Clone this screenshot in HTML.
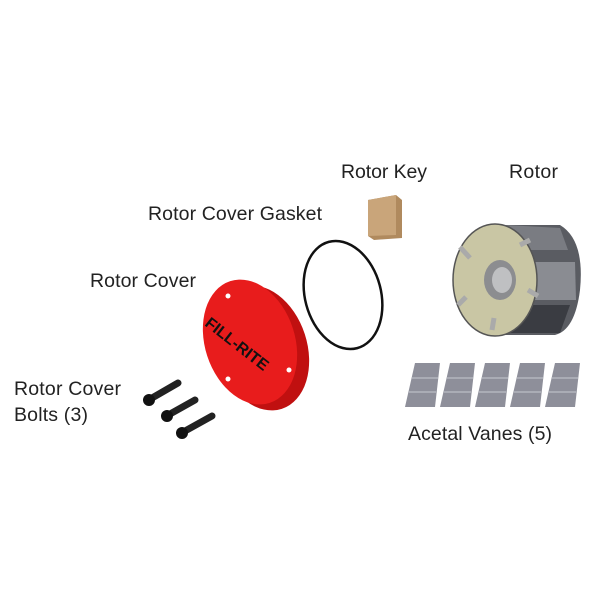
<!DOCTYPE html>
<html><head><style>body{margin:0;background:#fff}svg{display:block}</style></head>
<body>
<svg width="600" height="600" viewBox="0 0 600 600" xmlns="http://www.w3.org/2000/svg" font-family="Liberation Sans, sans-serif" font-size="19.5" fill="#222">
<text x="341" y="178" textLength="86">Rotor Key</text>
<text x="509" y="178" textLength="49">Rotor</text>
<text x="148" y="220" textLength="174">Rotor Cover Gasket</text>
<text x="90" y="287" textLength="106">Rotor Cover</text>
<text x="14" y="395" textLength="107">Rotor Cover</text>
<text x="14" y="421" textLength="74">Bolts (3)</text>
<text x="408" y="440" textLength="144">Acetal Vanes (5)</text>
<!-- rotor key -->
<polygon points="368,200 396,195 402,200 402,238 374,240 368,236" fill="#b08a5e"/>
<polygon points="368,200 396,195 396,235 368,236" fill="#c9a57a"/>
<!-- gasket -->
<ellipse cx="343" cy="295" rx="38" ry="55" transform="rotate(-15 343 295)" fill="none" stroke="#111" stroke-width="2.5"/>
<!-- rotor body -->
<path d="M495,225 L560,225 Q585,240 580,290 Q575,330 555,335 L495,335 Z" fill="#5a5c62"/>
<path d="M505,225 L560,228 L568,250 L510,250 Z" fill="#7a7c82"/>
<path d="M520,262 L575,262 L576,300 L520,300 Z" fill="#8a8c92"/>
<path d="M520,305 L570,305 L560,333 L505,333 Z" fill="#3a3c42"/>
<ellipse cx="495" cy="280" rx="42" ry="56" fill="#c9c6a4" stroke="#555" stroke-width="1.5"/>
<ellipse cx="500" cy="280" rx="16" ry="20" fill="#8c8d90"/>
<ellipse cx="502" cy="280" rx="10" ry="13" fill="#bfc0c2"/>
<g stroke="#aaa" stroke-width="5">
<line x1="460" y1="247" x2="470" y2="258"/><line x1="458" y1="305" x2="466" y2="297"/>
<line x1="492" y1="330" x2="494" y2="318"/><line x1="528" y1="290" x2="538" y2="296"/><line x1="520" y1="245" x2="530" y2="240"/>
</g>
<!-- vanes -->
<g fill="#8e8f9a">
<path d="M415,363 L440,363 L435,407 L405,407 Z"/>
<path d="M450,363 L475,363 L470,407 L440,407 Z"/>
<path d="M485,363 L510,363 L505,407 L475,407 Z"/>
<path d="M520,363 L545,363 L540,407 L510,407 Z"/>
<path d="M555,363 L580,363 L575,407 L545,407 Z"/>
</g>
<g stroke="#b4b5be" stroke-width="1.5">
<line x1="412" y1="378" x2="438" y2="378"/><line x1="409" y1="392" x2="436" y2="392"/>
<line x1="447" y1="378" x2="473" y2="378"/><line x1="444" y1="392" x2="471" y2="392"/>
<line x1="482" y1="378" x2="508" y2="378"/><line x1="479" y1="392" x2="506" y2="392"/>
<line x1="517" y1="378" x2="543" y2="378"/><line x1="514" y1="392" x2="541" y2="392"/>
<line x1="552" y1="378" x2="578" y2="378"/><line x1="549" y1="392" x2="576" y2="392"/>
</g>
<!-- red cover -->
<ellipse cx="262" cy="348" rx="45" ry="64" transform="rotate(-18 262 348)" fill="#c01010"/>
<ellipse cx="250" cy="342" rx="45" ry="64" transform="rotate(-18 250 342)" fill="#e81c1c"/>
<text x="204" y="325" transform="rotate(38 204 325)" font-size="16" font-weight="bold" fill="#111">FILL-RITE</text>
<circle cx="228" cy="296" r="2.5" fill="#fff"/><circle cx="289" cy="370" r="2.5" fill="#fff"/><circle cx="228" cy="379" r="2.5" fill="#fff"/>
<!-- bolts -->
<g stroke="#222" stroke-width="7" stroke-linecap="round">
<line x1="152" y1="398" x2="178" y2="383"/><line x1="170" y1="414" x2="195" y2="400"/><line x1="185" y1="431" x2="212" y2="416"/>
</g>
<circle cx="149" cy="400" r="6" fill="#111"/><circle cx="167" cy="416" r="6" fill="#111"/><circle cx="182" cy="433" r="6" fill="#111"/>
</svg>
</body></html>
